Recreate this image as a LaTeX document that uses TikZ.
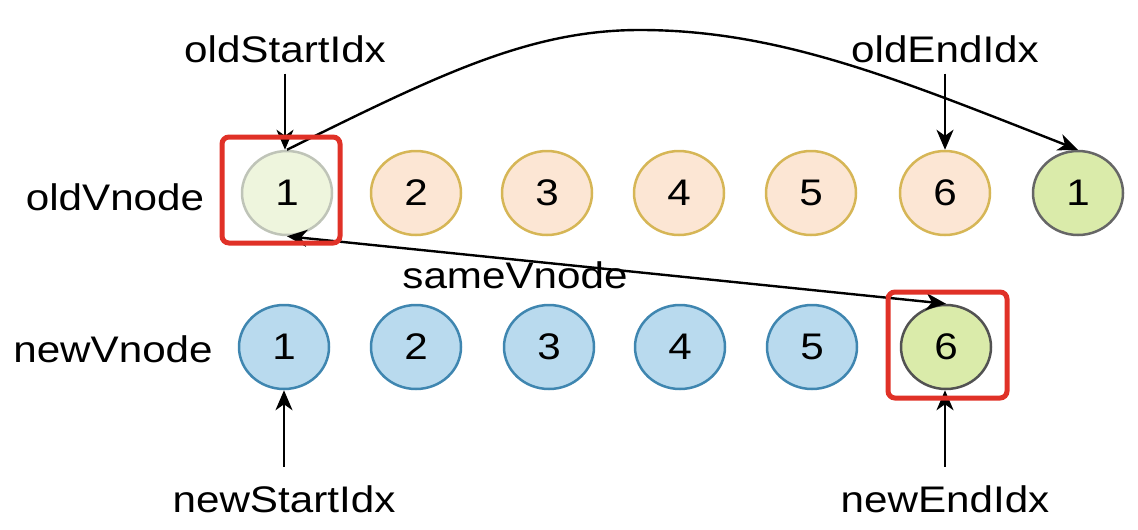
\documentclass[tikz,border=0pt]{standalone}
\usepackage{fontspec}
\setmainfont{Liberation Sans}[FakeStretch=1.14]
\usetikzlibrary{arrows.meta}
\usetikzlibrary{shapes.geometric}
\definecolor{oldfill}{HTML}{FCE6D4}
\definecolor{olddraw}{HTML}{D6B656}
\definecolor{newfill}{HTML}{B9DAEE}
\definecolor{newdraw}{HTML}{3F86B0}
\definecolor{samefill}{HTML}{DAEBAA}
\definecolor{samedraw}{HTML}{666666}
\definecolor{fadefill}{HTML}{EEF5DD}
\definecolor{fadedraw}{HTML}{BFC4B8}
\definecolor{boxred}{HTML}{E03127}
\tikzset{vnode/.style = {ellipse, draw, line width=2.5pt, minimum width=90pt,
                         minimum height=84pt, inner sep=0}}
\tikzset{oldv/.style = {vnode, fill=oldfill, draw=olddraw}}
\tikzset{newv/.style = {vnode, fill=newfill, draw=newdraw}}
\tikzset{samev/.style = {vnode, fill=samefill, draw=samedraw}}
\tikzset{lbl/.style = {inner sep=0, anchor=base}}
\tikzset{redbox/.style = {draw=boxred, line width=5pt, rounded corners=7pt}}

\begin{document}
\begin{tikzpicture}[x=1pt, y=-1pt, line width=2.4pt,
    >={Stealth[length=20pt, width=17pt, inset=6pt]},
    every node/.style={font=\fontsize{37}{44}\selectfont}]
    \useasboundingbox (0,0) rectangle (1138,530);
    % old row
    \node [samev, fill=fadefill, draw=fadedraw] (o1) at (287,193) {1};
    \foreach \n/\x in {2/416, 3/547, 4/679, 5/811, 6/945}
      \node [oldv] (o\n) at (\x,193) {\n};
    \node [samev] (o7) at (1078,193) {1};
    % new row
    \foreach \n/\x in {1/284, 2/416, 3/549, 4/680, 5/812}
      \node [newv] (n\n) at (\x,347) {\n};
    \node [samev, draw=samedraw!80!black] (n6) at (946,347) {6};
    % labels
    \node [lbl] (oldlbl) at (115,210) {oldVnode};
    \node [lbl] (newlbl) at (113,362) {newVnode};
    \node [lbl] (samelbl) at (515,288) {sameVnode};
    \node [lbl] (osi) at (285,62) {oldStartIdx};
    \node [lbl] (oei) at (945,62) {oldEndIdx};
    \node [lbl] (nsi) at (284,512) {newStartIdx};
    \node [lbl] (nei) at (945,512) {newEndIdx};
    % pointers
    \draw [->, shorten <=10pt] (osi.south) -- (osi.south |- o1.north);
    \draw [->, shorten <=10pt] (oei.south) -- (oei.south |- o6.north);
    \draw [->, shorten <=17pt] (nsi.north) -- (nsi.north |- n1.south);
    \draw [->, shorten <=17pt] (nei.north) -- (nei.north |- n6.south);
    % moves
    \draw [->] (o1.north) .. controls (440,74) and (530,30) .. (640,30)
               .. controls (780,30) and (900,80) .. (o7.north);
    \draw [<->] (o1.south) -- (n6.north);
    % highlights
    \draw [redbox] (222,137) rectangle (340,243);
    \draw [redbox] (888,292) rectangle (1007,398);
\end{tikzpicture}
\end{document}
